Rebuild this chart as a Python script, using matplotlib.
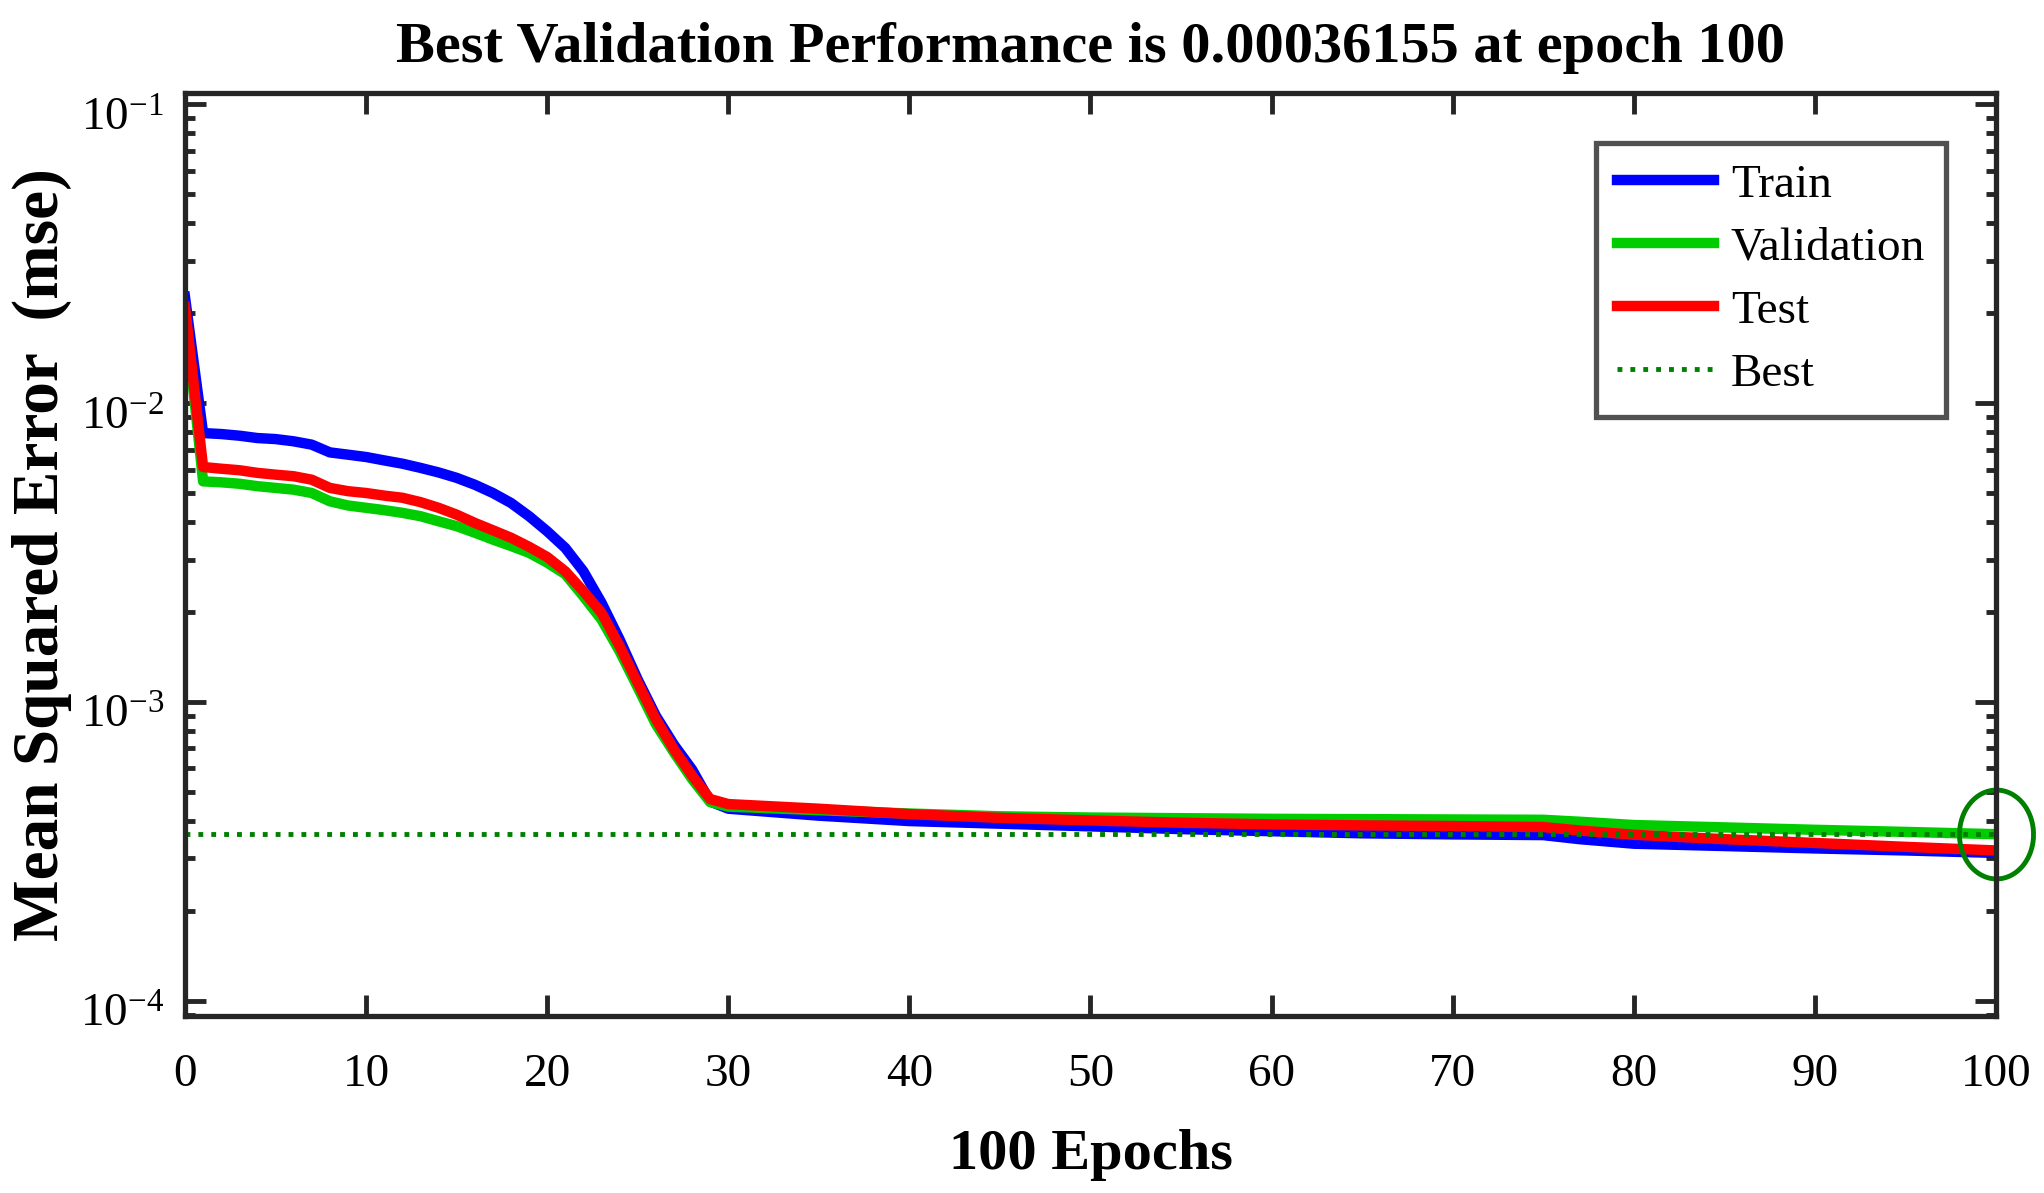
import matplotlib
matplotlib.use("Agg")
import matplotlib.pyplot as plt
import matplotlib.transforms as mtrans
import numpy as np
from matplotlib.path import Path
from matplotlib.ticker import LogLocator, LogFormatterMathtext, NullFormatter

plt.rcParams['font.family'] = ['Liberation Serif', 'DejaVu Serif']
plt.rcParams['mathtext.fontset'] = 'custom'
plt.rcParams['mathtext.rm'] = 'Liberation Serif'
plt.rcParams['mathtext.it'] = 'Liberation Serif:italic'
plt.rcParams['mathtext.bf'] = 'Liberation Serif:bold'

epochs = list(range(0, 31)) + [35, 40, 45, 50, 55, 60, 65, 70, 75, 77, 80, 85, 90, 95, 100]

train = [2.27e-2, 7.95e-3, 7.89e-3, 7.79e-3, 7.65e-3, 7.59e-3, 7.46e-3, 7.27e-3, 6.85e-3, 6.73e-3,
         6.61e-3, 6.44e-3, 6.28e-3, 6.08e-3, 5.87e-3, 5.63e-3, 5.34e-3, 5.01e-3, 4.64e-3, 4.19e-3,
         3.73e-3, 3.28e-3, 2.74e-3, 2.15e-3, 1.62e-3, 1.19e-3, 9.0e-4, 7.2e-4, 5.95e-4, 4.65e-4,
         4.40e-4, 4.17e-4, 4.00e-4, 3.92e-4, 3.84e-4, 3.76e-4, 3.70e-4, 3.64e-4, 3.61e-4, 3.59e-4,
         3.48e-4, 3.36e-4, 3.30e-4, 3.24e-4, 3.19e-4, 3.13e-4]

validation = [2.05e-2, 5.48e-3, 5.44e-3, 5.38e-3, 5.28e-3, 5.21e-3, 5.14e-3, 5.01e-3, 4.70e-3, 4.55e-3,
              4.47e-3, 4.39e-3, 4.30e-3, 4.19e-3, 4.03e-3, 3.88e-3, 3.69e-3, 3.50e-3, 3.33e-3, 3.16e-3,
              2.93e-3, 2.68e-3, 2.26e-3, 1.89e-3, 1.48e-3, 1.12e-3, 8.44e-4, 6.79e-4, 5.53e-4, 4.63e-4,
              4.47e-4, 4.35e-4, 4.24e-4, 4.15e-4, 4.11e-4, 4.09e-4, 4.07e-4, 4.06e-4, 4.05e-4, 4.04e-4,
              3.98e-4, 3.88e-4, 3.81e-4, 3.74e-4, 3.68e-4, 3.6155e-4]

test = [2.10e-2, 6.12e-3, 6.04e-3, 5.97e-3, 5.85e-3, 5.77e-3, 5.70e-3, 5.55e-3, 5.21e-3, 5.08e-3,
        5.01e-3, 4.91e-3, 4.83e-3, 4.67e-3, 4.47e-3, 4.24e-3, 3.98e-3, 3.76e-3, 3.55e-3, 3.31e-3,
        3.06e-3, 2.74e-3, 2.35e-3, 1.99e-3, 1.54e-3, 1.16e-3, 8.77e-4, 6.95e-4, 5.68e-4, 4.74e-4,
        4.56e-4, 4.40e-4, 4.22e-4, 4.10e-4, 4.02e-4, 3.95e-4, 3.90e-4, 3.87e-4, 3.85e-4, 3.82e-4,
        3.72e-4, 3.60e-4, 3.48e-4, 3.38e-4, 3.28e-4, 3.19e-4]

best_epoch = 100
best_perf = 0.00036155

edge = '#262626'

fig = plt.figure(figsize=(20.44, 11.93), dpi=100)
ax = fig.add_axes([0.0905, 0.1484, 0.886, 0.7736])

ax.plot(epochs, train, color=(0, 0, 1), lw=7.5, label='Train')
ax.plot(epochs, validation, color=(0, 0.8, 0), lw=7.5, label='Validation')
ax.plot(epochs, test, color=(1, 0, 0), lw=7.5, label='Test')
ax.axhline(best_perf, color=(0, 0.5, 0), ls=':', lw=3.5, label='Best')
ax.axvline(best_epoch, color=(0, 0.5, 0), ls=':', lw=3.5)

# circle around the best point (looks slightly tall in the original)
t = np.linspace(0, 2 * np.pi, 80)
ell = Path(np.column_stack([np.cos(t), 1.2 * np.sin(t)]))
ax.plot([best_epoch], [best_perf], marker=ell, ms=64, mfc='none', mec=(0, 0.5, 0),
        mew=3.5, ls='none', clip_on=False)

ax.set_yscale('log')
ax.set_xlim(0, 100)
ax.set_ylim(10 ** -4.05, 10 ** -0.962)
ax.set_xticks(range(0, 101, 10))
ax.yaxis.set_major_locator(LogLocator(base=10, numticks=10))
ax.yaxis.set_minor_locator(LogLocator(base=10, subs=np.arange(2, 10), numticks=20))
ax.yaxis.set_major_formatter(LogFormatterMathtext())
ax.yaxis.set_minor_formatter(NullFormatter())

ax.tick_params(which='both', direction='in', top=True, right=True, color=edge, width=3.5,
               labelsize=34, labelcolor='black')
ax.tick_params(which='major', length=15)
ax.tick_params(which='minor', length=7)
ax.tick_params(axis='x', pad=27)
ax.tick_params(axis='y', pad=15)
for s in ax.spines.values():
    s.set_linewidth(3.8)
    s.set_color(edge)

# the "10" of each y label sits a bit below its tick in the original
shift = mtrans.ScaledTranslation(0, -7 / 72, fig.dpi_scale_trans)
for lab in ax.get_yticklabels():
    lab.set_transform(lab.get_transform() + shift)

ax.set_title('Best Validation Performance is 0.00036155 at epoch 100', fontsize=42,
             fontweight='bold', pad=22)
ax.set_xlabel('100 Epochs', fontsize=42, fontweight='bold', labelpad=24)
ax.set_ylabel('Mean Squared Error  (mse)', fontsize=47, fontweight='bold', labelpad=6)

leg = ax.legend(loc='upper right', fontsize=34, frameon=True, fancybox=False,
                borderaxespad=1.05, handlelength=2.05, handletextpad=0.35,
                labelspacing=0.42, borderpad=0.45)
leg.get_frame().set_edgecolor(edge)
leg.get_frame().set_linewidth(3.8)

fig.savefig('out.png', dpi=100, facecolor='white')
